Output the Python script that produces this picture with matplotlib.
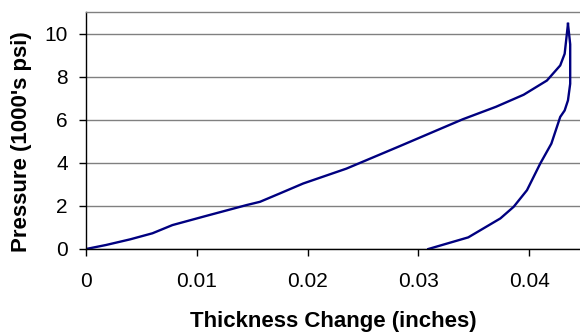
import matplotlib
matplotlib.use("Agg")
import matplotlib.pyplot as plt

# Loading curve (thickness change in inches, pressure in 1000's psi)
load_x = [0.0, 0.0018, 0.0040, 0.0060, 0.0078, 0.0108, 0.0145, 0.0157, 0.0175,
          0.0196, 0.0235, 0.0283, 0.0340, 0.0370, 0.0395, 0.0416,
          0.0428, 0.0432, 0.0434, 0.0435]
load_y = [0.0, 0.185, 0.45, 0.73, 1.11, 1.53, 2.04, 2.19, 2.58,
          3.04, 3.73, 4.77, 6.02, 6.60, 7.16, 7.82,
          8.52, 9.06, 9.99, 10.45]
# Unloading curve
unload_x = [0.0435, 0.0437, 0.0437, 0.0435, 0.0432, 0.0428, 0.0420, 0.0410,
            0.0398, 0.0386, 0.0374, 0.0345, 0.0309]
unload_y = [10.45, 9.50, 7.67, 6.90, 6.43, 6.13, 4.89, 3.97,
            2.73, 1.96, 1.42, 0.54, 0.0]

x_ticks = [0, 0.01, 0.02, 0.03, 0.04]
x_tick_labels = ["0", "0.01", "0.02", "0.03", "0.04"]
y_ticks = [0, 2, 4, 6, 8, 10]

plt.rcParams['font.family'] = ['Liberation Sans', 'DejaVu Sans']

W, H = 580, 333
fig = plt.figure(figsize=(W / 100, H / 100), dpi=100)
ax_left_px, ax_bottom_px = 86, H - 249
ax_w_px = 11080 * 0.045
ax_h_px = 249 - 12
ax = fig.add_axes([ax_left_px / W, ax_bottom_px / H, ax_w_px / W, ax_h_px / H])

ax.plot(load_x, load_y, color="#000080", lw=1.7, solid_joinstyle="round")
ax.plot(unload_x, unload_y, color="#000080", lw=1.7, solid_joinstyle="round")

ax.set_xlim(0, 0.045)
ax.set_ylim(0, 11)
ax.set_xticks(x_ticks)
ax.set_xticklabels(x_tick_labels)
ax.set_yticks(y_ticks)
ax.yaxis.grid(True, color="#808080", lw=1)
ax.set_axisbelow(True)

ax.spines["right"].set_visible(False)
ax.spines["top"].set_color("#808080")
ax.spines["top"].set_linewidth(1)
ax.spines["left"].set_color("#000000")
ax.spines["bottom"].set_color("#000000")
ax.spines["left"].set_linewidth(1)
ax.spines["bottom"].set_linewidth(1)

ax.tick_params(axis="x", direction="out", length=5, width=1, pad=11.5, labelsize=15)
ax.tick_params(axis="y", direction="out", length=5, width=1, pad=8, labelsize=15)

ax.set_xlabel("Thickness Change (inches)", fontsize=16, fontweight="bold", va="center")
ax.set_ylabel("Pressure (1000's psi)", fontsize=16, fontweight="bold", va="center")
# label centres measured in reference pixels
ax.xaxis.set_label_coords((333 - ax_left_px) / ax_w_px, ((H - 321) - ax_bottom_px) / ax_h_px)
ax.yaxis.set_label_coords((21 - ax_left_px) / ax_w_px, ((H - 141.5) - ax_bottom_px) / ax_h_px)

fig.savefig("out.png", dpi=100)
